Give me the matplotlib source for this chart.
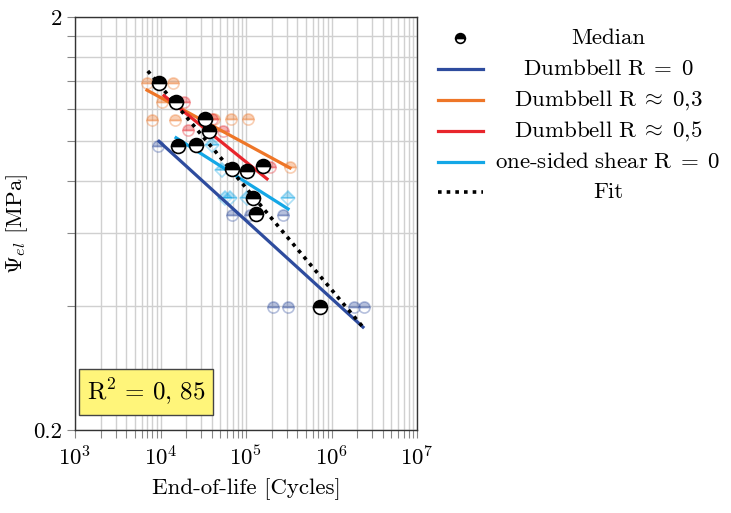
import matplotlib.pyplot as plt
from matplotlib.lines import Line2D
from matplotlib.ticker import LogLocator, NullFormatter, FixedLocator

plt.rcParams['font.family'] = 'serif'
plt.rcParams['font.serif'] = ['cmr10']
plt.rcParams['mathtext.fontset'] = 'cm'
plt.rcParams['axes.formatter.use_mathtext'] = True
plt.rcParams['font.size'] = 16.5

# medians (all series)
med_x = [9.6e3, 1.52e4, 1.6e4, 2.6e4, 3.31e4, 3.69e4, 6.86e4, 1.03e5, 1.58e5, 1.21e5, 1.31e5, 7.33e5]
med_y = [1.384, 1.245, 0.974, 0.980, 1.132, 1.059, 0.857, 0.848, 0.871, 0.729, 0.667, 0.397]

# single tests
r0_x = [9.35e3, 6.86e4, 1.11e5, 2.71e5, 2.07e5, 3.1e5, 1.83e6, 2.4e6]
r0_y = [0.975, 0.664, 0.664, 0.664, 0.397, 0.397, 0.397, 0.397]
r03_x = [6.95e3, 1.40e4, 7.96e3, 1.48e4, 1.04e4, 4.23e4, 6.68e4, 1.05e5, 3.27e5]
r03_y = [1.384, 1.384, 1.126, 1.126, 1.245, 1.13, 1.13, 1.13, 0.867]
r05_x = [1.88e4, 2.1e4, 5.4e4, 1.9e5, 4.0e4]
r05_y = [1.245, 1.065, 1.06, 0.867, 1.13]
shear_x = [4.0e4, 5.24e4, 5.67e4, 6.5e4, 1.03e5, 3.1e5]
shear_y = [0.98, 0.852, 0.729, 0.729, 0.729, 0.729]

# fitted lines (start / end)
fit_r0_x, fit_r0_y = [9.6e3, 2.33e6], [1.0, 0.355]
fit_r03_x, fit_r03_y = [6.95e3, 3.27e5], [1.33, 0.862]
fit_r05_x, fit_r05_y = [1.1e4, 1.76e5], [1.29, 0.811]
fit_shear_x, fit_shear_y = [1.52e4, 3.1e5], [1.02, 0.686]
fit_all_x, fit_all_y = [7.1e3, 2.33e6], [1.48, 0.355]

c_r0 = '#2e4c9e'
c_r03 = '#ee7628'
c_r05 = '#e8262c'
c_shear = '#14a7e6'

labels = ['Median', '$\\mathrm{Dumbbell\\ R}\\;=\\;0$', '$\\mathrm{Dumbbell\\ R}\\;\\approx\\;0{,}3$',
          '$\\mathrm{Dumbbell\\ R}\\;\\approx\\;0{,}5$',
          '$\\mathrm{one}$-$\\mathrm{sided\\ shear\\ R}\\;=\\;0$', 'Fit']

fig = plt.figure(figsize=(7.31, 5.13), dpi=100)
ax = fig.add_axes([0.1026, 0.1618, 0.4679, 0.8051])
ax.set_xscale('log')
ax.set_yscale('log')
ax.set_xlim(1e3, 1e7)
ax.set_ylim(0.2, 2)

# raw points, faded
for xs, ys, c, m in [(r0_x, r0_y, c_r0, 'o'), (r03_x, r03_y, c_r03, 'o'),
                     (r05_x, r05_y, c_r05, 'o'), (shear_x, shear_y, c_shear, 'D')]:
    ax.plot(xs, ys, ls='none', marker=m, ms=8 if m == 'o' else 7, color=c, mec=c, mew=1.2,
            fillstyle='top', markerfacecoloralt='white', alpha=0.35, zorder=3)

lw = 2.3
ax.plot(fit_r0_x, fit_r0_y, color=c_r0, lw=lw, zorder=4)
ax.plot(fit_r03_x, fit_r03_y, color=c_r03, lw=lw, zorder=4)
ax.plot(fit_r05_x, fit_r05_y, color=c_r05, lw=lw, zorder=4)
ax.plot(fit_shear_x, fit_shear_y, color=c_shear, lw=lw, zorder=4)
ax.plot(fit_all_x, fit_all_y, color='black', lw=2.6, ls=(0, (1, 1.4)), zorder=5)

ax.plot(med_x, med_y, ls='none', marker='o', ms=10, color='black', mec='black', mew=1.2,
        fillstyle='top', markerfacecoloralt='white', zorder=6)

# ticks and grid
ax.xaxis.set_major_locator(LogLocator(base=10, numticks=10))
ax.xaxis.set_minor_locator(LogLocator(base=10, subs=range(2, 10), numticks=20))
ax.xaxis.set_minor_formatter(NullFormatter())
ax.yaxis.set_major_locator(FixedLocator([0.2, 2]))
ax.yaxis.set_minor_locator(FixedLocator([0.4, 0.6, 0.8, 1.0, 1.2, 1.4, 1.6, 1.8]))
ax.yaxis.set_minor_formatter(NullFormatter())
ax.set_yticklabels(['0.2', '2'])
ax.tick_params(which='both', direction='out', length=6, width=0.8, color='#888888')
ax.tick_params(axis='x', which='major', pad=5)
ax.grid(True, which='both', color='#d0d0d0', lw=1.0)
ax.set_axisbelow(True)
for s in ax.spines.values():
    s.set_linewidth(1.0)
    s.set_color('#333333')

ax.set_xlabel('End-of-life [Cycles]', labelpad=6)
ax.set_ylabel('$\\Psi_{el}$ [MPa]', labelpad=2)

ax.text(0.208, 0.092, '$\\mathrm{R}^2 \\,=\\, 0,\\,85$', transform=ax.transAxes, ha='center',
        va='center', fontsize=18, zorder=10,
        bbox=dict(boxstyle='square,pad=0.3', fc='#fff57a', ec='#444444', lw=1.0))

# legend drawn beside the axes
W, H = 731, 513
rows = [38, 69, 100, 131, 162, 192]
styles = [dict(color='black', ls='none', marker='o', ms=7, mew=1.2, fillstyle='top',
               markerfacecoloralt='white'),
          dict(color=c_r0, lw=lw), dict(color=c_r03, lw=lw), dict(color=c_r05, lw=lw),
          dict(color=c_shear, lw=lw), dict(color='black', lw=2.6, ls=(0, (1, 1.4)))]
for i, (yy, st, lab) in enumerate(zip(rows, styles, labels)):
    if i == 0:
        fig.add_artist(Line2D([460 / W], [1 - yy / H], transform=fig.transFigure, **st))
    else:
        fig.add_artist(Line2D([438 / W, 483 / W], [1 - yy / H, 1 - yy / H],
                              transform=fig.transFigure, **st))
    fig.text(608 / W, 1 - yy / H, lab, ha='center', va='center', fontsize=16.5)

fig.savefig('out.png', dpi=100)
